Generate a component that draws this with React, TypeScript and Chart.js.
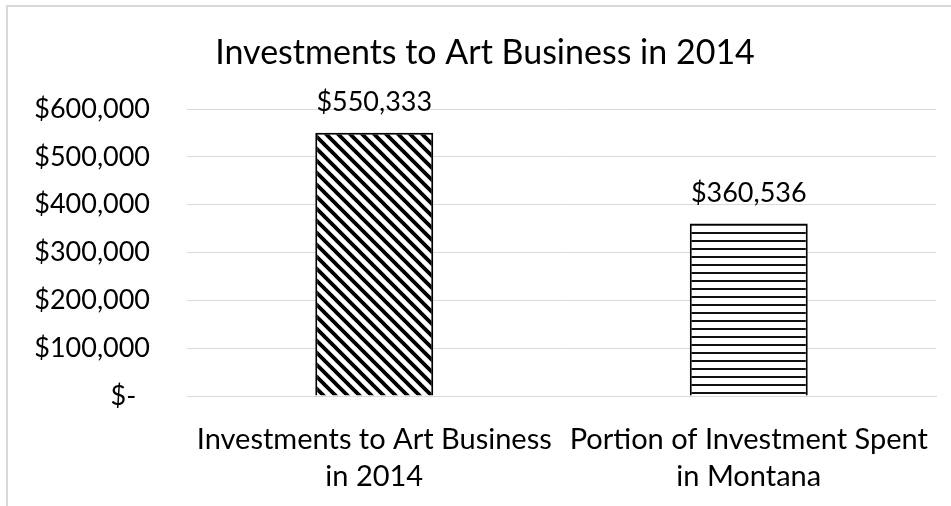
import React, { useEffect, useRef } from "react";
import { Chart, registerables } from "chart.js";

Chart.register(...registerables);

const chartTitle = "Investments to Art Business in 2014";
const categories: string[][] = [
  ["Investments to Art Business", "in 2014"],
  ["Portion of Investment Spent", "in Montana"],
];
const values: number[] = [550333, 360536];
const valueLabels: string[] = ["$550,333", "$360,536"];
const yTickValues: number[] = [0, 100000, 200000, 300000, 400000, 500000, 600000];
const yTickLabels: string[] = [
  "$-  ",
  "$100,000",
  "$200,000",
  "$300,000",
  "$400,000",
  "$500,000",
  "$600,000",
];

const FONT = "Lato";

function diagPattern(): CanvasPattern | string {
  const s = 12;
  const c = document.createElement("canvas");
  c.width = s;
  c.height = s;
  const x = c.getContext("2d");
  if (!x) return "#000";
  x.fillStyle = "#fff";
  x.fillRect(0, 0, s, s);
  x.strokeStyle = "#000";
  x.lineWidth = 3.8;
  x.beginPath();
  x.moveTo(-2, -2);
  x.lineTo(s + 2, s + 2);
  x.moveTo(-2, s - 2);
  x.lineTo(2, s + 2);
  x.moveTo(s - 2, -2);
  x.lineTo(s + 2, 2);
  x.stroke();
  return x.createPattern(c, "repeat") || "#000";
}

function hPattern(): CanvasPattern | string {
  const s = 8;
  const c = document.createElement("canvas");
  c.width = s;
  c.height = s;
  const x = c.getContext("2d");
  if (!x) return "#000";
  x.fillStyle = "#fff";
  x.fillRect(0, 0, s, s);
  x.fillStyle = "#111";
  x.fillRect(0, 0, s, 2);
  return x.createPattern(c, "repeat") || "#000";
}

const framePlugin = {
  id: "frame",
  beforeDraw(chart: any) {
    const ctx = chart.ctx;
    ctx.save();
    ctx.fillStyle = "#d9d9d9";
    ctx.fillRect(6, 5, chart.width - 6, 2);
    ctx.fillRect(6, 5, 2, chart.height - 5);
    ctx.fillStyle = "#000";
    ctx.font = `34px ${FONT}`;
    ctx.textAlign = "center";
    ctx.textBaseline = "alphabetic";
    ctx.fillText(chartTitle, 485, 64);
    ctx.restore();
  },
};

const valueLabelPlugin = {
  id: "valueLabels",
  afterDatasetsDraw(chart: any) {
    const ctx = chart.ctx;
    const meta = chart.getDatasetMeta(0);
    ctx.save();
    ctx.fillStyle = "#000";
    ctx.font = `27px ${FONT}`;
    ctx.textAlign = "center";
    ctx.textBaseline = "alphabetic";
    meta.data.forEach((bar: any, i: number) => {
      ctx.fillText(valueLabels[i], bar.x, bar.y - 22);
    });
    ctx.restore();
  },
};

export default function App() {
  const ref = useRef<HTMLCanvasElement | null>(null);

  useEffect(() => {
    document.body.style.margin = "0";
    const canvas = ref.current;
    if (!canvas) return;
    const chart = new Chart(canvas, {
      type: "bar",
      data: {
        labels: categories,
        datasets: [
          {
            data: values,
            backgroundColor: [diagPattern(), hPattern()],
            borderColor: "#000",
            borderWidth: 2,
            categoryPercentage: 1,
            barPercentage: 0.315,
          },
        ],
      },
      options: {
        animation: false,
        responsive: false,
        maintainAspectRatio: false,
        layout: { padding: { left: 0, right: 15, top: 109, bottom: 0 } },
        plugins: {
          legend: { display: false },
          tooltip: { enabled: false },
          title: { display: false },
        },
        scales: {
          x: {
            grid: { display: false, drawTicks: false },
            border: { display: true, color: "#d9d9d9", width: 1 },
            ticks: {
              color: "#000",
              padding: 25,
              font: { family: FONT, size: 29, lineHeight: 1.28 },
              maxRotation: 0,
              autoSkip: false,
            },
            afterFit(scale: any) {
              scale.height = 110;
              scale.paddingLeft = 0;
              scale.paddingRight = 0;
            },
          },
          y: {
            min: 0,
            max: 600000,
            grid: { color: "#d9d9d9", drawTicks: false },
            border: { display: false },
            ticks: {
              stepSize: 100000,
              color: "#000",
              padding: 37,
              font: { family: FONT, size: 27 },
              callback: (v: any) => {
                const i = yTickValues.indexOf(Number(v));
                return i >= 0 ? yTickLabels[i] : "";
              },
            },
            afterFit(scale: any) {
              scale.width = 187;
              scale.paddingTop = 0;
              scale.paddingBottom = 0;
            },
          },
        },
      },
      plugins: [framePlugin, valueLabelPlugin],
    });
    return () => chart.destroy();
  }, []);

  return (
    <div style={{ width: 951, height: 506 }}>
      <canvas ref={ref} width={951} height={506} style={{ display: "block" }} />
    </div>
  );
}
